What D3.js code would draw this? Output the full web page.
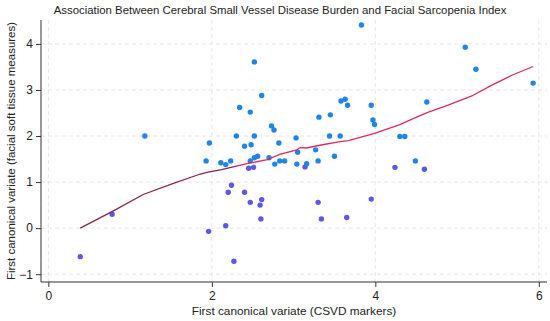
<!DOCTYPE html>
<html><head><meta charset="utf-8">
<script src="https://cdn.jsdelivr.net/npm/d3@7"></script>
<style>
body{margin:0;background:#fff;}
svg{display:block;font-family:"Liberation Sans",Arial,sans-serif;}
</style></head>
<body><svg id="chart" width="550" height="321"></svg>
<script>
const title = "Association Between Cerebral Small Vessel Disease Burden and Facial Sarcopenia Index";
const xLabel = "First canonical variate (CSVD markers)";
const yLabel = "First canonical variate (facial soft tissue measures)";
const xTicks = [0, 2, 4, 6];
const yTicks = [-1, 0, 1, 2, 3, 4];
const colorCut = 1.35;

const csvd = [0.39,0.78,1.18,3.83,2.52,2.61,2.34,2.47,2.73,2.76,1.97,2.30,2.52,2.40,2.48,2.82,3.03,3.31,3.45,3.58,3.63,3.66,3.44,3.57,3.95,3.97,3.99,1.93,2.11,2.17,2.23,2.47,2.52,2.56,2.70,2.77,2.83,2.89,3.05,3.04,3.14,3.16,3.27,3.30,3.50,2.45,2.51,4.24,4.30,4.36,4.49,4.60,4.63,5.10,5.23,5.93,2.24,2.20,2.40,2.47,2.61,2.59,2.60,2.17,1.96,2.27,3.30,3.34,3.65,3.95];
const fsi  = [-0.62,0.30,2.00,4.41,3.61,2.88,2.62,2.52,2.22,2.13,1.85,2.00,2.00,1.78,1.81,1.85,1.96,2.41,2.46,2.76,2.80,2.67,2.00,2.00,2.67,2.35,2.25,1.46,1.42,1.38,1.46,1.46,1.53,1.56,1.53,1.39,1.46,1.46,1.65,1.39,1.33,1.40,1.70,1.46,1.56,1.30,1.32,1.32,1.99,1.99,1.46,1.28,2.74,3.93,3.45,3.15,0.93,0.78,0.78,0.56,0.62,0.50,0.20,0.05,-0.07,-0.72,0.56,0.20,0.23,0.63];

const fitX = [0.39,0.79,1.16,1.53,1.85,1.94,2.12,2.26,2.43,2.68,2.83,3.04,3.08,3.16,3.32,3.57,3.67,3.98,4.30,4.49,4.65,4.89,5.18,5.42,5.67,5.93];
const fitY = [0.00,0.37,0.73,0.97,1.17,1.21,1.27,1.33,1.40,1.49,1.60,1.70,1.75,1.74,1.80,1.88,1.90,2.05,2.25,2.40,2.52,2.67,2.87,3.10,3.32,3.51];

const svg = d3.select("#chart");
const L = 41, R = 547, T = 20, B = 282;
const x = d3.scaleLinear().domain([-0.09, 6.1]).range([L, R]);
const y = d3.scaleLinear().domain([-1.17, 4.52]).range([B, T]);

// grid
const grid = svg.append("g").attr("stroke", "#e6e6e6").attr("stroke-width", 1).attr("stroke-dasharray", "4,3");
grid.selectAll("line.h").data(yTicks).join("line").attr("class","h")
  .attr("x1", L).attr("x2", R).attr("y1", d => y(d)).attr("y2", d => y(d));
grid.selectAll("line.v").data(xTicks).join("line").attr("class","v")
  .attr("y1", T).attr("y2", B).attr("x1", d => x(d)).attr("x2", d => x(d));

// axes
const fmt = d3.format("d");
const xAxis = svg.append("g").attr("transform", `translate(0,${B})`)
  .call(d3.axisBottom(x).tickValues(xTicks).tickFormat(fmt).tickSize(5).tickPadding(4).tickSizeOuter(0));
const yAxis = svg.append("g").attr("transform", `translate(${L},0)`)
  .call(d3.axisLeft(y).tickValues(yTicks).tickFormat(d => fmt(d).replace("-", "\u2212")).tickSize(5).tickPadding(3).tickSizeOuter(0));
[xAxis, yAxis].forEach(g => {
  g.select(".domain").attr("stroke", "#333");
  g.selectAll(".tick line").attr("stroke", "#333");
  g.selectAll(".tick text").attr("fill", "#222").style("font-size", "12px").style("font-family", "'Liberation Sans',Arial,sans-serif");
});
xAxis.select(".domain").attr("d", `M${L},0H${R}`);
yAxis.select(".domain").attr("d", `M0,${T}V${B}`);

// fit line gradient split at cut
const defs = svg.append("defs");
const grad = defs.append("linearGradient").attr("id","fitGrad")
  .attr("gradientUnits","userSpaceOnUse").attr("x1",0).attr("x2",0)
  .attr("y1", y(-1.17)).attr("y2", y(4.52));
const cutOff = (colorCut - (-1.17)) / (4.52 - (-1.17));
grad.append("stop").attr("offset", 0).attr("stop-color", "#7a2352");
grad.append("stop").attr("offset", cutOff).attr("stop-color", "#8a2455");
grad.append("stop").attr("offset", cutOff).attr("stop-color", "#dc2a62");
grad.append("stop").attr("offset", 1).attr("stop-color", "#dc2a62");

const pts = csvd.map((v, i) => ({x: v, y: fsi[i]}));
svg.append("g").selectAll("circle").data(pts).join("circle")
  .attr("cx", d => x(d.x)).attr("cy", d => y(d.y)).attr("r", 2.7)
  .attr("fill", d => d.y < colorCut ? "#5a58e4" : "#1f84e6");

const fit = fitX.map((v, i) => [v, fitY[i]]);
svg.append("path").datum(fit)
  .attr("d", d3.line().x(d => x(d[0])).y(d => y(d[1])))
  .attr("fill", "none").attr("stroke", "url(#fitGrad)").attr("stroke-width", 1.3);

// texts
svg.append("text").attr("x", 280).attr("y", 14).attr("text-anchor", "middle")
  .style("font-size", "11.4px").attr("fill", "#222").text(title);
svg.append("text").attr("x", (L + R) / 2).attr("y", 315).attr("text-anchor", "middle")
  .style("font-size", "11.8px").attr("fill", "#222").text(xLabel);
svg.append("text").attr("transform", `translate(12,${(T + B) / 2}) rotate(-90)`)
  .attr("text-anchor", "middle").attr("dominant-baseline", "middle")
  .style("font-size", "11.5px").attr("fill", "#222").text(yLabel);
</script></body></html>
